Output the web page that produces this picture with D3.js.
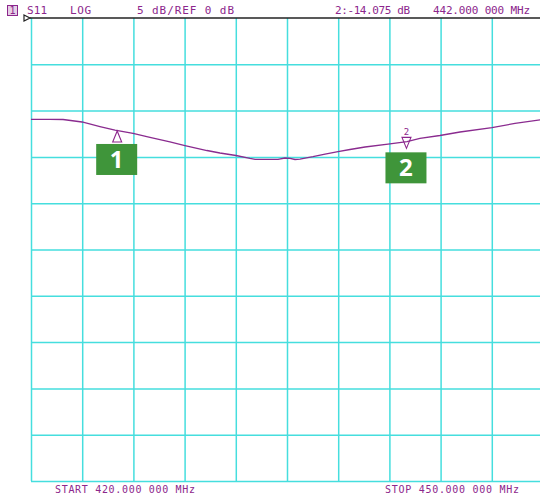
<!DOCTYPE html>
<html>
<head>
<meta charset="utf-8">
<script src="https://cdn.jsdelivr.net/npm/d3@7"></script>
<style>
  body { margin: 0; background: #fff; }
  svg { display: block; }
  .hdr { font-family: "DejaVu Sans Mono", monospace; font-size: 11px; fill: #8c268c; }
</style>
</head>
<body>
<div id="chart"></div>
<script>
// trace, S11 log magnitude
const freqMHz = [420.00, 421.11, 421.88, 422.99, 424.04, 424.92, 425.98, 426.97, 428.14, 429.02,
                 430.31, 431.07, 432.01, 432.83, 433.13, 434.47, 434.88, 435.18, 435.47, 435.76,
                 436.52, 437.23, 437.99, 438.69, 439.57, 440.92, 442.03, 442.79, 443.96, 445.14,
                 447.01, 448.36, 450.00];
const s11dB = [-10.94, -10.94, -10.96, -11.23, -11.72, -12.10, -12.47, -12.90, -13.39, -13.77,
               -14.31, -14.58, -14.85, -15.17, -15.26, -15.26, -15.12, -15.17, -15.28, -15.23,
               -14.98, -14.69, -14.44, -14.20, -13.93, -13.61, -13.34, -13.01, -12.69, -12.31,
               -11.83, -11.39, -10.96];

const markerIds = ["1", "2"];
const markerFreq = [425.05, 442.0];
const markerDb = [-12.2, -14.075];

const startMHz = 420, stopMHz = 450;
const refDb = 0, dbPerDiv = 5, divisions = 10;

const width = 540, height = 499;
const plot = {left: 31, top: 18, right: 543, bottom: 481};

const svg = d3.select("#chart").append("svg")
    .attr("width", width)
    .attr("height", height);

const x = d3.scaleLinear().domain([startMHz, stopMHz]).range([plot.left, plot.right]);
const y = d3.scaleLinear().domain([refDb, refDb - dbPerDiv * divisions]).range([plot.top, plot.bottom]);

const xTicks = d3.range(divisions + 1).map(i => startMHz + i * (stopMHz - startMHz) / divisions);
const yTicks = d3.range(divisions + 1).map(i => refDb - i * dbPerDiv);

const gridColor = "#45dede";

// vertical grid
svg.append("g")
    .attr("transform", `translate(0, ${plot.bottom})`)
    .call(d3.axisBottom(x).tickValues(xTicks).tickSize(-(plot.bottom - plot.top)).tickFormat(""))
    .call(g => g.select(".domain").remove())
    .call(g => g.selectAll("line").attr("stroke", gridColor).attr("stroke-width", 1.5));

// horizontal grid
svg.append("g")
    .attr("transform", `translate(${plot.left}, 0)`)
    .call(d3.axisLeft(y).tickValues(yTicks.slice(1)).tickSize(-(plot.right - plot.left)).tickFormat(""))
    .call(g => g.select(".domain").remove())
    .call(g => g.selectAll("line").attr("stroke", gridColor).attr("stroke-width", 1.5));

// reference line on top
svg.append("line")
    .attr("x1", plot.left - 1).attr("x2", width)
    .attr("y1", y(refDb)).attr("y2", y(refDb))
    .attr("stroke", "#222").attr("stroke-width", 1.5);

svg.append("path")
    .attr("d", `M${plot.left - 7},${y(refDb) - 3} L${plot.left - 1},${y(refDb)} L${plot.left - 7},${y(refDb) + 3} Z`)
    .attr("fill", "#fff").attr("stroke", "#222").attr("stroke-width", 1.2);

// trace
const line = d3.line()
    .x((d, i) => x(freqMHz[i]))
    .y(d => y(d));

svg.append("path")
    .datum(s11dB)
    .attr("fill", "none")
    .attr("stroke", "#8a2b8f")
    .attr("stroke-width", 1.3)
    .attr("d", line);

// markers
const purple = "#8c268c";
markerIds.forEach((id, i) => {
    const mx = x(markerFreq[i]), my = y(markerDb[i]);
    const up = i === 0;
    const tri = up
        ? `M${mx},${my} L${mx - 4.5},${my + 11} L${mx + 4.5},${my + 11} Z`
        : `M${mx},${my} L${mx - 4.5},${my - 11} L${mx + 4.5},${my - 11} Z`;
    svg.append("path").attr("d", tri)
        .attr("fill", "none").attr("stroke", purple).attr("stroke-width", 1.1);
    if (!up) {
        svg.append("text").attr("class", "hdr")
            .attr("x", mx).attr("y", my - 13)
            .attr("text-anchor", "middle")
            .style("font-size", "9px")
            .text(id);
    }
    // green badge
    const bx = up ? mx - 21 : mx - 21;
    const by = up ? my + 13 : my + 4;
    svg.append("rect")
        .attr("x", bx).attr("y", by)
        .attr("width", 41).attr("height", 31)
        .attr("fill", "#3f953a");
    svg.append("text")
        .attr("x", bx + 20.5).attr("y", by + 24)
        .attr("text-anchor", "middle")
        .attr("fill", "#fff")
        .style("font-family", "'Open Sans', 'DejaVu Sans', sans-serif")
        .style("font-weight", "700")
        .style("font-size", "24px")
        .text(id);
});

// header texts
svg.append("rect")
    .attr("x", 7.5).attr("y", 5.5).attr("width", 10).attr("height", 10)
    .attr("fill", "#e6cfe6").attr("stroke", purple).attr("stroke-width", 1);
svg.append("text").attr("class", "hdr")
    .attr("x", 12.5).attr("y", 14).attr("text-anchor", "middle")
    .style("font-size", "10px").text("1");

const headers = [
    {t: "S11", x: 27, w: 20},
    {t: "LOG", x: 70, w: 21},
    {t: "5 dB/REF 0 dB", x: 137, w: 97},
    {t: "2:-14.075 dB", x: 335, w: 75},
    {t: "442.000 000 MHz", x: 433, w: 97}
];
headers.forEach(h => {
    svg.append("text").attr("class", "hdr")
        .attr("x", h.x).attr("y", 14)
        .attr("textLength", h.w).attr("lengthAdjust", "spacing")
        .text(h.t);
});

const footers = [
    {t: "START 420.000 000 MHz", x: 55, w: 140},
    {t: "STOP 450.000 000 MHz", x: 385, w: 134}
];
footers.forEach(h => {
    svg.append("text").attr("class", "hdr")
        .attr("x", h.x).attr("y", 493)
        .style("font-size", "10px")
        .attr("textLength", h.w).attr("lengthAdjust", "spacing")
        .text(h.t);
});
</script>
</body>
</html>
